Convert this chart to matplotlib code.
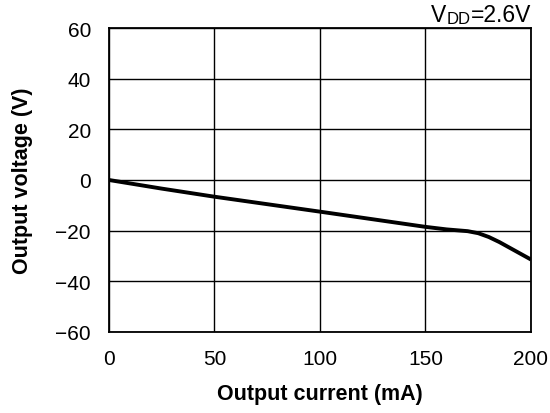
import matplotlib
matplotlib.use("Agg")
import matplotlib.pyplot as plt

current_mA = [0, 25, 50, 100, 150, 160, 170, 175, 180, 185, 190, 195, 200]
voltage_V = [0, -3.4, -6.6, -12.5, -18.5, -19.5, -20.2, -21.0, -22.5, -24.5, -26.8, -29.1, -31.4]
x_ticks = [0, 50, 100, 150, 200]
y_ticks = [-60, -40, -20, 0, 20, 40, 60]
y_tick_labels = ["\u221260", "\u221240", "\u221220", "0", "20", "40", "60"]

plt.rcParams['font.family'] = ['Liberation Sans', 'DejaVu Sans']

fig = plt.figure(figsize=(5.5, 4.14), dpi=100)
ax = fig.add_axes([109/550, 1-333/414, (531-109)/550, (333-29)/414])

ax.plot(current_mA, voltage_V, color='black', lw=2.8, solid_capstyle='butt')
ax.set_xlim(0, 200)
ax.set_ylim(-60, 60)
ax.set_xticks(x_ticks)
ax.set_yticks(y_ticks)
ax.set_yticklabels(y_tick_labels)
ax.grid(True, color='black', lw=1.0)
ax.tick_params(length=0, labelsize=15, colors='black')
ax.tick_params(axis='x', pad=12)
ax.tick_params(axis='y', pad=13)
for s in ax.spines.values():
    s.set_linewidth(1.3)
    s.set_color('black')

ax.set_xlabel("Output current (mA)", fontsize=15.5, fontweight='bold', labelpad=11)
ax.set_ylabel("Output voltage (V)", fontsize=15.5, fontweight='bold', labelpad=16)

t1 = ax.text(1.0, 1.005, "=2.6V", transform=ax.transAxes, ha='right', va='bottom', fontsize=16.5)
t2 = ax.annotate("DD", xy=(0, 0), xycoords=t1, ha='right', va='bottom', fontsize=12)
t3 = ax.annotate("V", xy=(0, 0), xycoords=t2, ha='right', va='bottom', fontsize=16.5)

fig.savefig("out.png", dpi=100)
